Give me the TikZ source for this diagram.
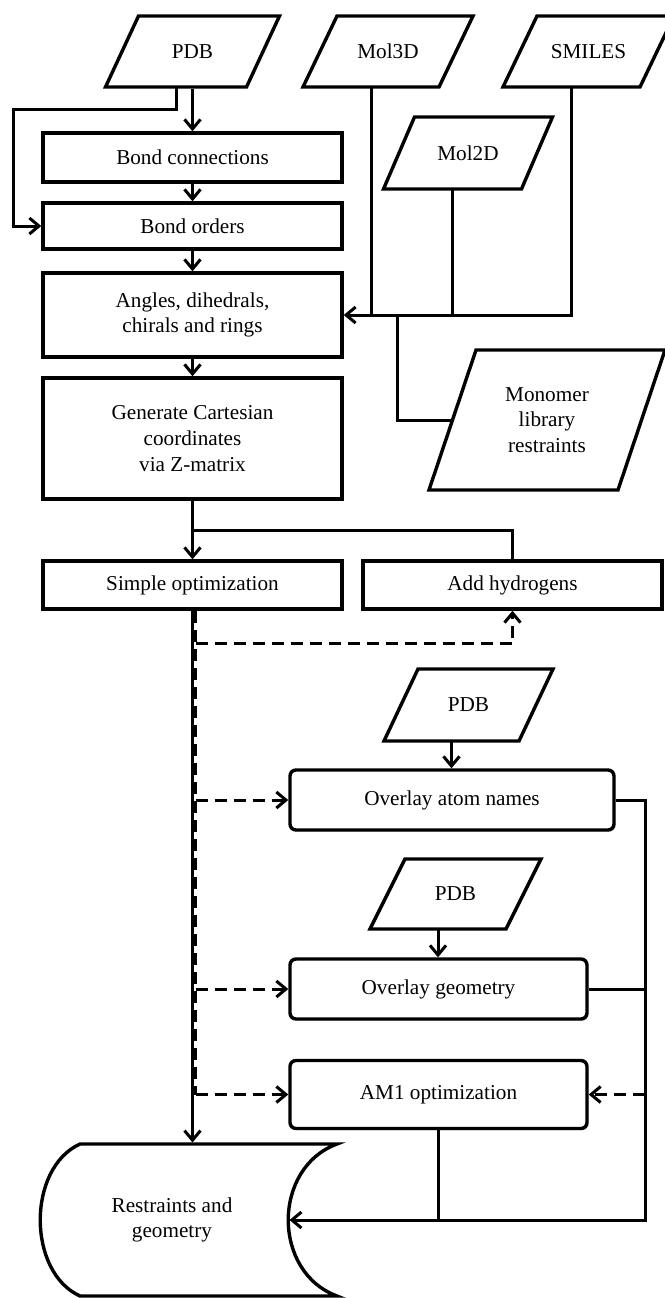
\documentclass[tikz,border=0pt]{standalone}
\usepackage{fontspec}
\setmainfont{Liberation Serif}
\usetikzlibrary{calc,arrows.meta,shadows}

% data box: name, cx, cy, edge width, height, slant, text
\newcommand{\iobox}[7]{%
  \draw[iofr] ({#2-#4/2-#6/2},{#3+#5/2}) -- ++(#4,0) -- ++(#6,-#5) -- ++(-#4,0) -- cycle;
  \node (#1) [iotext, minimum width=#4*\px, minimum height=#5*\px] at (#2,#3) {#7};
  \coordinate (#1-b) at ({#2-#6/2},{#3+#5/2});
}

\begin{document}
\begin{tikzpicture}[x=0.5pt,y=-0.5pt,>={Straight Barb[length=4.8pt,width=8pt]},
    line width=1.5pt, font=\fontsize{10.6}{12.8}\selectfont,
    proc/.style={draw,line width=1.7pt,inner sep=0pt,align=center},
    rproc/.style={proc,rounded corners=3pt,fill=white,
        drop shadow={shadow xshift=0.8pt,shadow yshift=-0.9pt,fill=black!25}},
    iofr/.style={line width=1.7pt,line join=miter},
    iotext/.style={inner sep=0pt,align=center},
    dsh/.style={dash pattern=on 6pt off 3.5pt}]
    \def\px{0.5pt}
    \useasboundingbox (0,0) rectangle (665,1298);

    % inputs
    \iobox{pdbA}{192.5}{51.5}{141}{71}{33}{PDB}
    \iobox{mol3d}{388}{51.5}{136}{71}{34}{Mol3D}
    \iobox{smiles}{588.5}{51.5}{137}{71}{34}{SMILES}
    \iobox{mol2d}{468}{153}{138}{72}{31}{Mol2D}
    \iobox{mono}{547}{420}{189}{140}{47}{Monomer\\library\\restraints}

    % main column
    \node (bondcon) [proc, minimum width=299*\px, minimum height=49*\px] at (192.5,157.5) {Bond connections};
    \node (bondord) [proc, minimum width=299*\px, minimum height=46*\px] at (192.5,226) {Bond orders};
    \node (angles) [proc, minimum width=299*\px, minimum height=84*\px] at (192.5,315) {Angles, dihedrals,\\chirals and rings};
    \node (genxyz) [proc, minimum width=299*\px, minimum height=121*\px] at (192.5,438.5) {Generate Cartesian\\coordinates\\via Z-matrix};
    \node (simpopt) [proc, minimum width=299*\px, minimum height=48*\px] at (192.5,585) {Simple optimization};
    \node (addh) [proc, minimum width=299*\px, minimum height=48*\px] at (512.5,585) {Add hydrogens};

    % overlays
    \iobox{pdbB}{468.5}{705}{135}{72}{34}{PDB}
    \node (ovatom) [rproc, minimum width=324*\px, minimum height=60*\px] at (452,800) {Overlay atom names};
    \iobox{pdbC}{455.5}{894}{136}{70}{35}{PDB}
    \node (ovgeom) [rproc, minimum width=297*\px, minimum height=60*\px] at (438.5,989) {Overlay geometry};
    \node (am1) [rproc, minimum width=297*\px, minimum height=68*\px] at (438.5,1094.5) {AM1 optimization};

    % stored result
    \draw[iofr] (337,1144) -- (80,1144) .. controls (27,1168) and (27,1272) .. (80,1296)
        -- (337,1296) .. controls (272,1272) and (272,1168) .. (337,1144) -- cycle;
    \node (store) [iotext, minimum width=232*\px, minimum height=152*\px] at (172,1220) {Restraints and\\geometry};

    % connectors
    \draw[->] (pdbA.south) -- (pdbA.south |- bondcon.north);
    \coordinate (lft) at (13,109);
    \draw[->] (pdbA-b) |- (lft) |- (bondord.west);
    \draw[->] (bondcon.south) -- (bondord.north);
    \draw[->] (bondord.south) -- (angles.north);
    \draw[->] (angles.south) -- (genxyz.north);

    \draw[->] (smiles-b) |- (angles.east);
    \draw (mol3d-b) -- (mol3d-b |- angles.east);
    \draw (mol2d-b) -- (mol2d-b |- angles.east);
    \coordinate (mjn) at (397,315);
    \draw (mjn) |- (mono.west);

    \draw[->] (genxyz.south) -- (simpopt.north);
    \draw (addh.north) |- ($(genxyz.south)!0.5!(simpopt.north)$);

    \draw[->] (simpopt.south) -- (simpopt.south |- store.north);
    \coordinate (dtop) at ($(simpopt.south)+(3,0)$);
    \draw[dsh] (dtop) -- (dtop |- am1.west);
    \draw[dsh,->] ($(dtop)+(0,33)$) -| (addh.south);
    \draw[dsh,->] (dtop |- ovatom.west) -- (ovatom.west);
    \draw[dsh,->] (dtop |- ovgeom.west) -- (ovgeom.west);
    \draw[dsh,->] (dtop |- am1.west) -- (am1.west);

    \draw[->] (pdbB-b) -- (pdbB-b |- ovatom.north);
    \draw[->] (pdbC-b) -- (pdbC-b |- ovgeom.north);

    \coordinate (bus) at (645,800);
    \draw[->] (ovatom.east) -| (bus |- store.east) -- (store.east);
    \draw (ovgeom.east) -- (bus |- ovgeom.east);
    \draw[dsh,->] (bus |- am1.east) -- (am1.east);
    \draw (am1.south) -- (am1.south |- store.east);
\end{tikzpicture}
\end{document}
